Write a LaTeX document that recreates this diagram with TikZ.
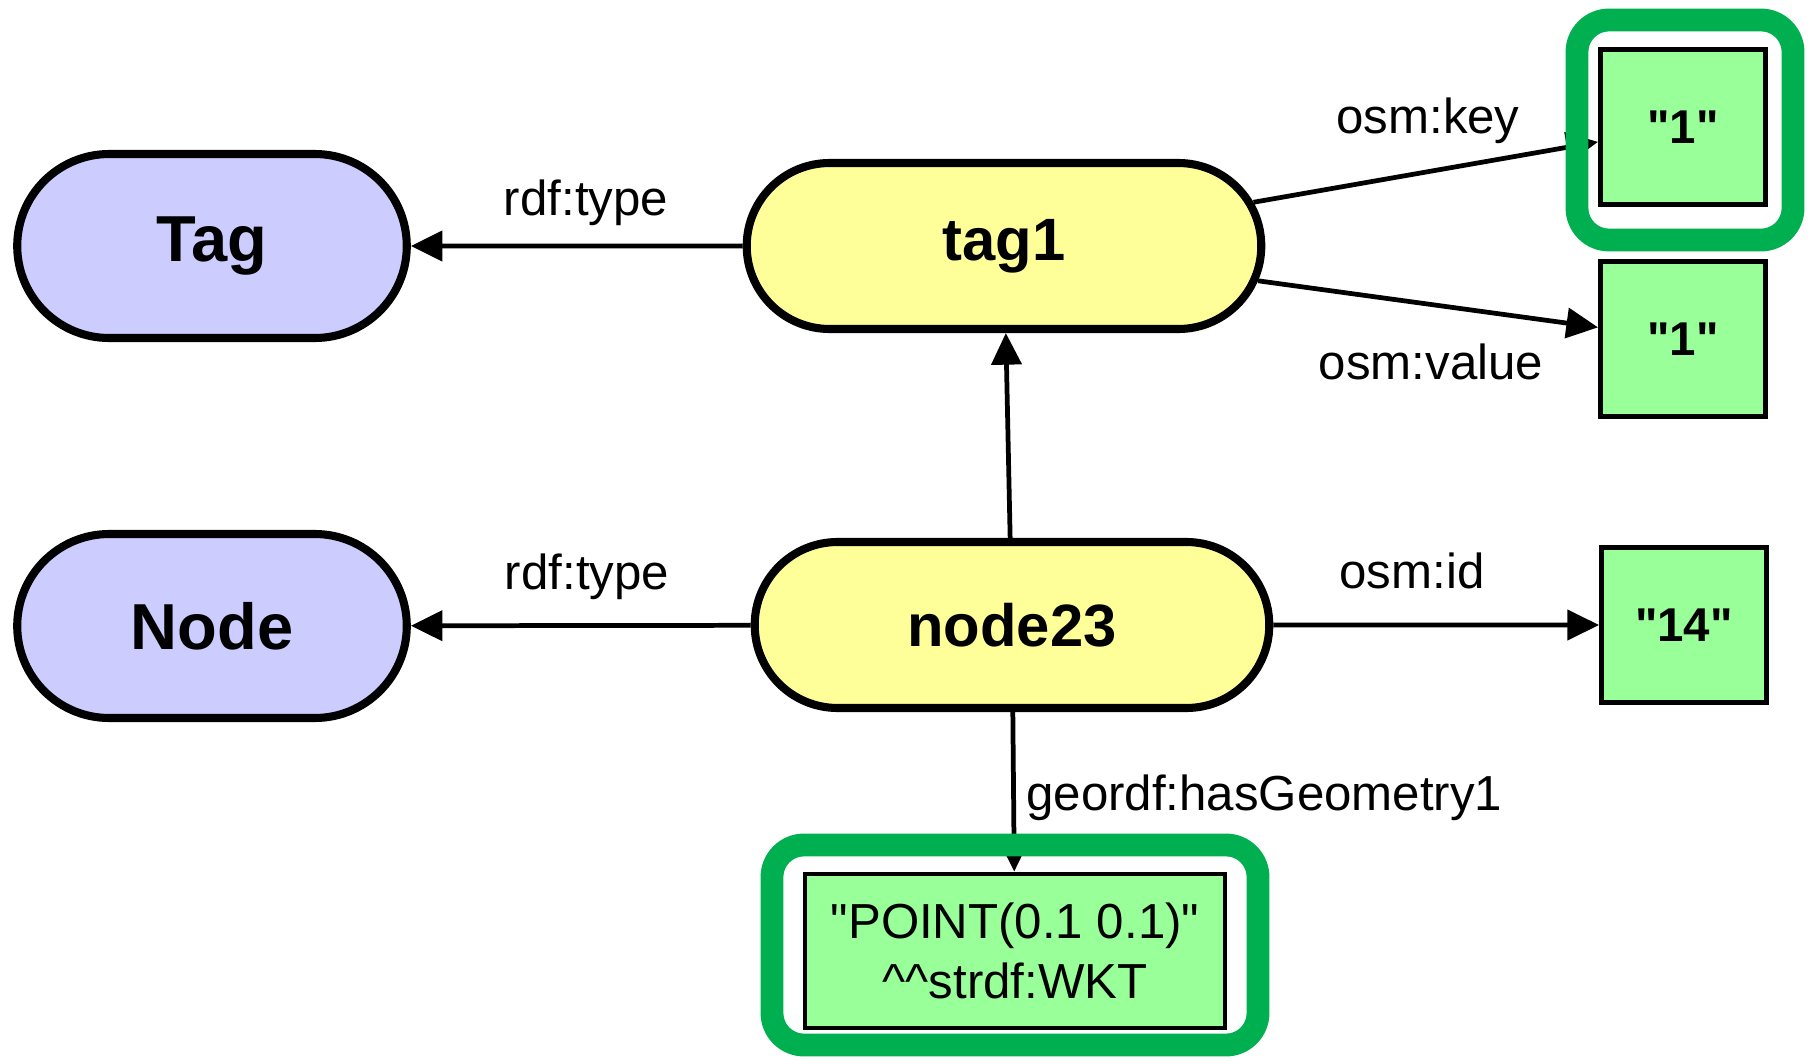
\documentclass[tikz,border=0pt]{standalone}
\usepackage{fontspec}
\setmainfont{Liberation Sans}[Ligatures=TeXOff]
\usetikzlibrary{shapes.misc,arrows.meta}

\definecolor{clsfill}{HTML}{CCCCFF}
\definecolor{instfill}{HTML}{FFFF99}
\definecolor{litfill}{HTML}{99FF99}
\definecolor{hlgreen}{HTML}{00B050}

\tikzset{
	cls/.style={rounded rectangle, draw, line width=2.3pt, fill=clsfill,
		minimum width=4.13cm, minimum height=1.84cm,
		font=\bfseries\fontsize{18.5}{22}\selectfont},
	inst/.style={rounded rectangle, draw, line width=2.3pt, fill=instfill,
		minimum width=5.38cm, minimum height=1.66cm,
		font=\bfseries\fontsize{17}{20}\selectfont},
	lit/.style={rectangle, draw, line width=1.4pt, fill=litfill,
		minimum width=1.65cm, minimum height=1.55cm,
		font=\bfseries\fontsize{13.5}{16}\selectfont},
	edge/.style={line width=1.35pt, -{Triangle[length=9pt,width=8.5pt]}},
	lbl/.style={inner sep=0pt, font=\fontsize{14}{17}\selectfont},
	hilite/.style={draw=hlgreen, line width=6.5pt, rounded corners=0.32cm}
}

\begin{document}
\begin{tikzpicture}
	\useasboundingbox (0,0) rectangle (18.12,10.61);

	% классы
	\node [cls] (Tag) at ( 2.12, 8.15 ) {Tag};
	\node [cls] (Node) at ( 2.12, 4.35 ) {Node};

	% экземпляры
	\node [inst] (tag1) at ( 10.04, 8.15 ) {tag1};
	\node [inst] (node23) at ( 10.12, 4.36 ) {node23};

	% литералы
	\node [lit] (key) at ( 16.83, 9.34 ) {"1"};
	\node [lit] (value) at ( 16.83, 7.22 ) {"1"};
	\node [lit] (id) at ( 16.84, 4.36 ) {"14"};
	\node [lit, minimum width=4.2cm, minimum height=1.54cm, align=center,
		font=\fontsize{14}{17}\selectfont] (wkt) at ( 10.15, 1.10 )
		{"POINT(0.1 0.1)"\\\textasciicircum\textasciicircum strdf:WKT};

	% связи tag1
	\draw [edge] (tag1) -- (Tag) node [lbl] (ltype1) at ( 5.86, 8.58 ) {rdf:type};
	\draw [edge] (tag1) -- (key) node [lbl] (lkey) at ( 14.28, 9.40 ) {osm:key};
	\draw [edge] (tag1) -- (value) node [lbl] (lvalue) at ( 14.31, 6.99 ) {osm:value};

	% связи node23
	\draw [edge] (node23) -- (Node) node [lbl] (ltype2) at ( 5.87, 4.84 ) {rdf:type};
	\draw [edge] (node23) -- (tag1);
	\draw [edge] (node23) -- (id) node [lbl] (lid) at ( 14.12, 4.90 ) {osm:id};
	\draw [edge] (node23) -- (wkt) node [lbl, anchor=west] (lgeom) at ( 10.24, 2.63 ) {geordf:hasGeometry1};

	% выделение
	\draw [hilite] ( 15.77, 10.41 ) rectangle ( 17.93, 8.21 );
	\draw [hilite] ( 7.72, 2.16 ) rectangle ( 12.58, 0.16 );
\end{tikzpicture}
\end{document}
